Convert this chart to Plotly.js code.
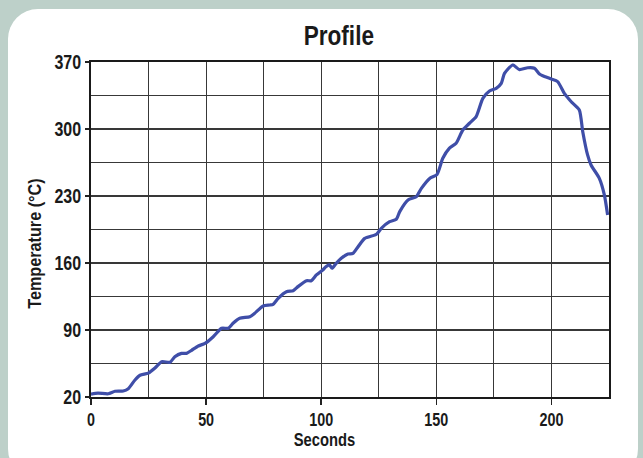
<!DOCTYPE html>
<html>
<head>
<meta charset="utf-8">
<script src="https://cdn.plot.ly/plotly-3.0.1.min.js"></script>
<style>
  html, body { margin: 0; padding: 0; width: 643px; height: 458px; overflow: hidden; background: #bdd0c9; }
  #panel { position: absolute; left: 8px; top: 9px; width: 630px; height: 470px; background: #ffffff; border-radius: 30px; }
  #chart { position: absolute; left: 0; top: 0; width: 643px; height: 458px; }
</style>
</head>
<body>
<div id="panel"></div>
<div id="chart"></div>
<script>
const seconds = [0, 3, 7.5, 10.4, 14, 16.2, 19.1, 21.3, 24.9, 27.8, 30.7, 34.3, 36.4, 39.3, 41.5, 43.7, 46.6, 49.5, 53.1, 56.7, 59.6, 61.7, 64.6, 69, 71.1, 74.8, 77.7, 79.1, 81.3, 84.9, 87.8, 89.9, 93.6, 95.7, 97.9, 100.8, 102, 103.6, 104.7, 106.5, 108.7, 111.6, 113.8, 116, 118.9, 124, 126.1, 129.7, 132.6, 134.1, 137.7, 141.3, 143.5, 147.1, 150.3, 152.8, 155.7, 158.6, 161.5, 164.4, 167.3, 170.2, 173.1, 176, 178.2, 179.6, 183.2, 186.1, 189.7, 192.6, 194.8, 196.2, 199.9, 202.7, 205.6, 208.6, 212.1, 213.6, 215.7, 217.2, 220.8, 223, 224.4];
const temperature = [23, 24, 23.4, 26, 26.3, 28.7, 37.8, 42.7, 45, 50.3, 56.9, 56.3, 62, 65.6, 65.6, 68.8, 73.3, 76, 83, 91.8, 91.8, 97, 102.2, 103.9, 107.5, 115.1, 116.1, 116.8, 123.1, 130, 131, 135.3, 141.5, 141.5, 147.5, 153, 156, 158, 154.5, 159.6, 164.9, 169.4, 170, 177, 185.7, 190, 196.3, 203.2, 205.7, 213.7, 225.8, 229.3, 238, 248.4, 252.5, 269.4, 280, 285.1, 299, 306, 312.9, 332, 339.7, 342.5, 347.7, 358.1, 366.9, 362, 364, 363.5, 357.5, 355.7, 352.3, 349.5, 337.2, 328.5, 319.9, 297.2, 272.9, 262.4, 248.5, 231, 210.2];
const xTicks = [0, 50, 100, 150, 200];
const yTicks = [20, 90, 160, 230, 300, 370];
const titleText = 'Profile';
const xTitle = 'Seconds';
const yTitle = 'Temperature (°C)';

const FONT = '"Liberation Sans", Arial, sans-serif';
const CONDENSE = 0.82;

const trace = {
  x: seconds, y: temperature, type: 'scatter', mode: 'lines',
  line: { color: '#3f4ea8', width: 3.2, shape: 'spline', smoothing: 0.6 },
  hoverinfo: 'skip'
};

const layout = {
  width: 643, height: 458,
  margin: { l: 91, r: 34, t: 62, b: 61 },
  paper_bgcolor: 'rgba(0,0,0,0)',
  plot_bgcolor: '#ffffff',
  showlegend: false,
  title: {
    text: titleText, xref: 'container', x: 0.527, xanchor: 'center',
    yref: 'container', y: 1 - 35 / 458, yanchor: 'middle',
    font: { family: FONT, size: 27.5, color: '#1a1a1a', weight: 'bold' }
  },
  xaxis: {
    range: [0, 225], tickmode: 'array', tickvals: xTicks, ticktext: xTicks.map(String),
    ticks: 'outside', ticklen: 6, tickwidth: 1.5, tickcolor: '#222',
    showgrid: true, gridcolor: '#383838', gridwidth: 1.2,
    minor: { dtick: 25, tick0: 0, showgrid: true, gridcolor: '#383838', gridwidth: 1.2, ticks: '' },
    showline: true, linecolor: '#1a1a1a', linewidth: 2, mirror: true,
    zeroline: false, fixedrange: true,
    tickfont: { family: FONT, size: 17.5, color: '#1a1a1a', weight: 'bold' }
  },
  yaxis: {
    range: [20, 370], tickmode: 'array', tickvals: yTicks, ticktext: yTicks.map(String),
    ticks: 'outside', ticklen: 4, tickwidth: 1.5, tickcolor: '#222',
    showgrid: true, gridcolor: '#383838', gridwidth: 1.2,
    minor: { dtick: 35, tick0: 20, showgrid: true, gridcolor: '#383838', gridwidth: 1.2, ticks: '' },
    showline: true, linecolor: '#1a1a1a', linewidth: 2, mirror: true,
    zeroline: false, fixedrange: true,
    tickfont: { family: FONT, size: 19.5, color: '#1a1a1a', weight: 'bold' }
  },
  annotations: [
    { text: xTitle, xref: 'paper', yref: 'paper', x: (324 - 91) / 518, y: -(440 - 397) / 335,
      xanchor: 'center', yanchor: 'middle', showarrow: false,
      font: { family: FONT, size: 18, color: '#1a1a1a', weight: 'bold' } },
    { text: yTitle, xref: 'paper', yref: 'paper', x: (35 - 91) / 518, y: (397 - 244) / 335,
      xanchor: 'center', yanchor: 'middle', showarrow: false, textangle: -90,
      font: { family: FONT, size: 18, color: '#1a1a1a', weight: 'bold' } }
  ]
};

Plotly.newPlot('chart', [trace], layout, { staticPlot: true, displayModeBar: false }).then(function (gd) {
  // Narrow the bold sans glyphs to mimic a condensed face (text stays real text).
  gd.querySelectorAll('svg text').forEach(function (t) {
    const len = t.getComputedTextLength();
    if (len > 0) {
      const f = (t.textContent.indexOf('Temperature') >= 0) ? 0.9 : CONDENSE;
      t.setAttribute('textLength', (len * f).toFixed(2));
      t.setAttribute('lengthAdjust', 'spacingAndGlyphs');
    }
  });
});
</script>
</body>
</html>
